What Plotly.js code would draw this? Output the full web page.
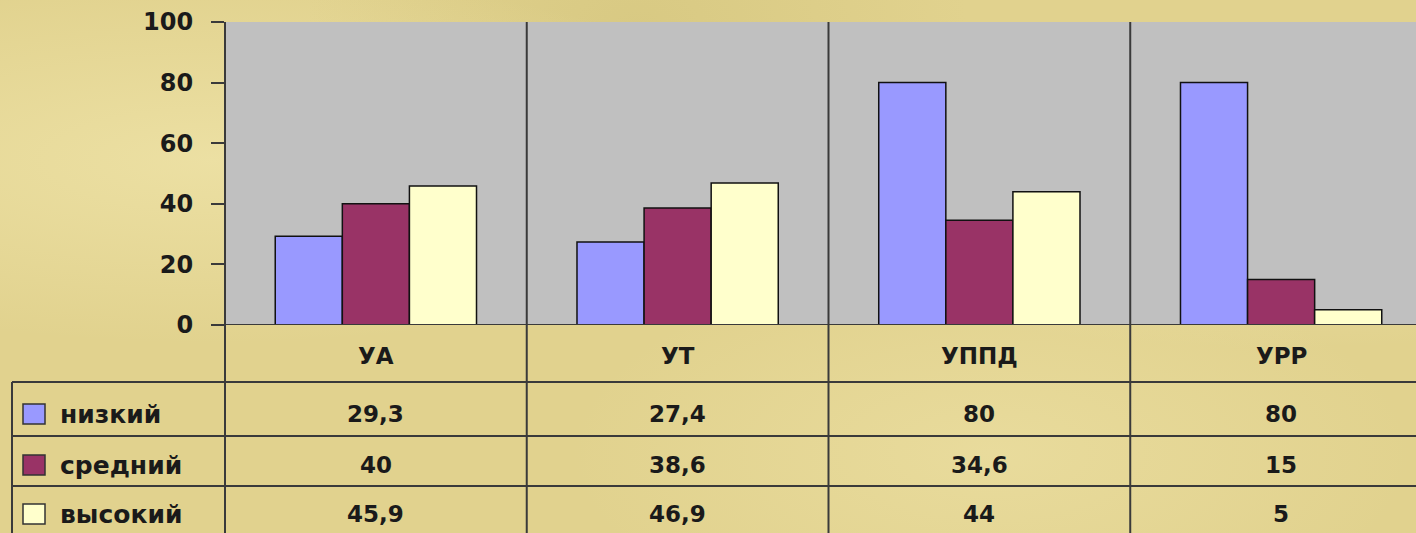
<!DOCTYPE html>
<html>
<head>
<meta charset="utf-8">
<script src="https://cdn.plot.ly/plotly-3.0.1.min.js"></script>
<style>
  html, body { margin: 0; padding: 0; }
  body {
    width: 1416px; height: 533px; overflow: hidden;
    background-color: #e1d28e;
    background-image:
      radial-gradient(ellipse at 15% 30%, rgba(245,235,180,0.55) 0%, rgba(245,235,180,0) 35%),
      radial-gradient(ellipse at 70% 85%, rgba(240,228,170,0.5) 0%, rgba(240,228,170,0) 30%),
      radial-gradient(ellipse at 45% 5%, rgba(200,185,110,0.35) 0%, rgba(200,185,110,0) 30%),
      radial-gradient(ellipse at 90% 40%, rgba(245,235,185,0.4) 0%, rgba(245,235,185,0) 30%);
  }
  #chart { width: 1416px; height: 533px; }
</style>
</head>
<body>
<div id="chart"></div>
<script>
// ---- data ----
const categories = ['УА', 'УТ', 'УППД', 'УРР'];
const seriesNames = ['низкий', 'средний', 'высокий'];
const low  = [29.3, 27.4, 80, 80];
const mid  = [40, 38.6, 34.6, 15];
const high = [45.9, 46.9, 44, 5];
const yTicks = [0, 20, 40, 60, 80, 100];

// ---- styling ----
const colors = ['#9999ff', '#993366', '#ffffcc'];
const FONT = 'DejaVu Sans, Verdana, sans-serif';
const lineColor = '#3a3a3a';
const textColor = '#1a1a1a';
const W = 1416, H = 533;
const mL = 225, mR = 0, mT = 22, mB = 208;
const plotW = W - mL - mR, plotH = H - mT - mB;
const px2x = p => (p - mL) / plotW;          // pixel -> paper x
const py2y = p => (H - mB - p) / plotH;      // pixel -> paper y

const series = [low, mid, high];
const traces = series.map((vals, i) => ({
  type: 'bar',
  x: categories.map((c, k) => k),
  y: vals,
  name: seriesNames[i],
  marker: { color: colors[i], line: { color: '#111', width: 1.5 } },
  hoverinfo: 'none'
}));

const fmt = v => String(v).replace('.', ',');

const shapes = [];
const annotations = [];
const bottomY = py2y(545);

// y-axis line extended down through table
shapes.push({ type: 'line', xref: 'paper', yref: 'paper', x0: 0, x1: 0, y0: 1, y1: bottomY,
  line: { color: lineColor, width: 2 } });
// category separators
for (let k = 0; k < categories.length - 1; k++) {
  shapes.push({ type: 'line', xref: 'x', yref: 'paper', x0: k + 0.5, x1: k + 0.5, y0: 1, y1: bottomY,
    line: { color: lineColor, width: 2 } });
}
// zero line
shapes.push({ type: 'line', xref: 'paper', yref: 'y', x0: 0, x1: 1.02, y0: 0, y1: 0,
  line: { color: lineColor, width: 2 } });
// table horizontal lines
[382, 436, 486].forEach(p => {
  shapes.push({ type: 'line', xref: 'paper', yref: 'paper', x0: px2x(12), x1: 1.02, y0: py2y(p), y1: py2y(p),
    line: { color: lineColor, width: 2 } });
});
// table left border
shapes.push({ type: 'line', xref: 'paper', yref: 'paper', x0: px2x(12), x1: px2x(12), y0: py2y(382), y1: bottomY,
  line: { color: lineColor, width: 2 } });

// header row: category names
categories.forEach((c, k) => {
  annotations.push({ xref: 'x', yref: 'paper', x: k, y: py2y(356), text: c, showarrow: false,
    xanchor: 'center', yanchor: 'middle', font: { family: FONT, size: 23, weight: 'bold', color: textColor } });
});

// data rows
const rowCenters = [414, 465, 514];
series.forEach((vals, i) => {
  const yc = py2y(rowCenters[i]);
  // legend key
  shapes.push({ type: 'rect', xref: 'paper', yref: 'paper',
    x0: px2x(23), x1: px2x(45), y0: py2y(rowCenters[i] - 10), y1: py2y(rowCenters[i] + 10),
    fillcolor: colors[i], line: { color: '#333', width: 1.5 } });
  annotations.push({ xref: 'paper', yref: 'paper', x: px2x(58), y: yc, text: seriesNames[i], showarrow: false,
    xanchor: 'left', yanchor: 'middle', font: { family: FONT, size: 25, weight: 'bold', color: textColor } });
  vals.forEach((v, k) => {
    annotations.push({ xref: 'x', yref: 'paper', x: k, y: yc, text: fmt(v), showarrow: false,
      xanchor: 'center', yanchor: 'middle', font: { family: FONT, size: 23, weight: 'bold', color: textColor } });
  });
});

const layout = {
  width: W, height: H,
  margin: { l: mL, r: mR, t: mT, b: mB, pad: 0 },
  paper_bgcolor: 'rgba(0,0,0,0)',
  plot_bgcolor: '#c0c0c0',
  showlegend: false,
  barmode: 'group',
  bargap: 0.333,
  bargroupgap: 0,
  xaxis: {
    range: [-0.5, 3.447],
    showticklabels: false, showgrid: false, zeroline: false, showline: false, ticks: '',
    fixedrange: true
  },
  yaxis: {
    range: [0, 100],
    tickvals: yTicks,
    ticktext: yTicks.map(String),
    ticks: 'outside', ticklen: 13, tickwidth: 2, tickcolor: lineColor,
    showline: false, showgrid: false, zeroline: false,
    ticklabelstandoff: 13,
    tickfont: { family: FONT, size: 24, weight: 'bold', color: textColor },
    fixedrange: true
  },
  shapes: shapes,
  annotations: annotations
};

Plotly.newPlot('chart', traces, layout, { staticPlot: true, displayModeBar: false });
</script>
</body>
</html>
